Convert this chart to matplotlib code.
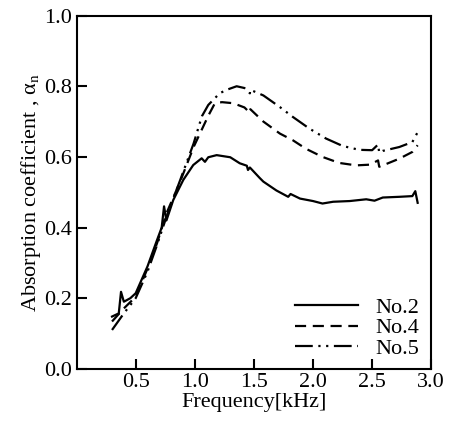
import matplotlib
matplotlib.use("Agg")
import matplotlib.pyplot as plt

plt.rcParams['font.family'] = ['Liberation Serif', 'DejaVu Serif']
plt.rcParams['mathtext.fontset'] = 'stix'

# No.2 (solid)
f2 = [0.30, 0.357, 0.376, 0.40, 0.455, 0.50, 0.60, 0.68, 0.72, 0.74, 0.76, 0.818, 0.903, 0.987, 1.058,
      1.086, 1.114, 1.185, 1.30, 1.38, 1.44, 1.45, 1.466, 1.55, 1.58, 1.69, 1.79, 1.81, 1.89, 2.0, 2.08,
      2.17, 2.31, 2.45, 2.52, 2.59, 2.73, 2.84, 2.865, 2.885]
a2 = [0.148, 0.157, 0.218, 0.19, 0.20, 0.214, 0.29, 0.364, 0.40, 0.46, 0.42, 0.478, 0.535, 0.577, 0.596,
      0.586, 0.599, 0.605, 0.599, 0.582, 0.575, 0.563, 0.57, 0.54, 0.53, 0.505, 0.487, 0.495, 0.482, 0.475,
      0.468, 0.473, 0.475, 0.48, 0.476, 0.485, 0.487, 0.489, 0.503, 0.47]

# No.4 (dashed)
f4 = [0.30, 0.40, 0.50, 0.60, 0.68, 0.76, 0.876, 0.99, 1.07, 1.115, 1.17, 1.23, 1.325, 1.42, 1.466,
      1.47, 1.58, 1.72, 1.83, 1.94, 2.08, 2.22, 2.365, 2.48, 2.55, 2.56, 2.62, 2.73, 2.84, 2.885]
a4 = [0.134, 0.171, 0.204, 0.284, 0.355, 0.44, 0.53, 0.628, 0.685, 0.717, 0.752, 0.755, 0.752, 0.74, 0.725,
      0.735, 0.70, 0.666, 0.647, 0.623, 0.60, 0.583, 0.576, 0.578, 0.59, 0.572, 0.58, 0.595, 0.614, 0.633]

# No.5 (dash-dot)
f5 = [0.30, 0.40, 0.50, 0.60, 0.68, 0.76, 0.876, 0.99, 1.06, 1.114, 1.21, 1.27, 1.354, 1.42, 1.466,
      1.47, 1.58, 1.72, 1.83, 1.97, 2.11, 2.25, 2.39, 2.50, 2.55, 2.56, 2.59, 2.73, 2.84, 2.885]
a5 = [0.11, 0.157, 0.20, 0.275, 0.35, 0.43, 0.534, 0.638, 0.715, 0.747, 0.78, 0.79, 0.80, 0.795, 0.78,
      0.79, 0.774, 0.741, 0.713, 0.68, 0.652, 0.631, 0.62, 0.619, 0.635, 0.612, 0.617, 0.628, 0.642, 0.67]

fig = plt.figure(figsize=(4.53, 4.22), dpi=100)
ax = fig.add_axes([0.169, 0.126, 0.783, 0.837])

ax.plot(f2, a2, color='black', lw=1.6, linestyle='-', label='No.2')
ax.plot(f4, a4, color='black', lw=1.6, linestyle=(0, (5, 3)), label='No.4')
ax.plot(f5, a5, color='black', lw=1.6, linestyle=(0, (8, 2.5, 1, 2.5, 1, 2.5)), label='No.5')

ax.set_xlim(0, 3.0)
ax.set_ylim(0, 1.0)
ax.set_xticks([0.5, 1.0, 1.5, 2.0, 2.5, 3.0])
ax.set_xticklabels(['0.5', '1.0', '1.5', '2.0', '2.5', '3.0'])
ax.set_yticks([0.0, 0.2, 0.4, 0.6, 0.8, 1.0])
ax.set_yticklabels(['0.0', '0.2', '0.4', '0.6', '0.8', '1.0'])
ax.tick_params(direction='in', length=7, width=1.5, labelsize=16, pad=3)
for s in ax.spines.values():
    s.set_linewidth(1.5)

ax.set_xlabel('Frequency[kHz]', fontsize=16, labelpad=1)
ax.set_ylabel(r'Absorption coefficient , α$_{\rm n}$', fontsize=16, labelpad=1)

ax.legend(loc='lower right', bbox_to_anchor=(0.99, 0.003), frameon=False, fontsize=16,
          handlelength=2.85, labelspacing=0.0, handletextpad=0.75, borderaxespad=0.0)

fig.savefig('out.png', dpi=100)
